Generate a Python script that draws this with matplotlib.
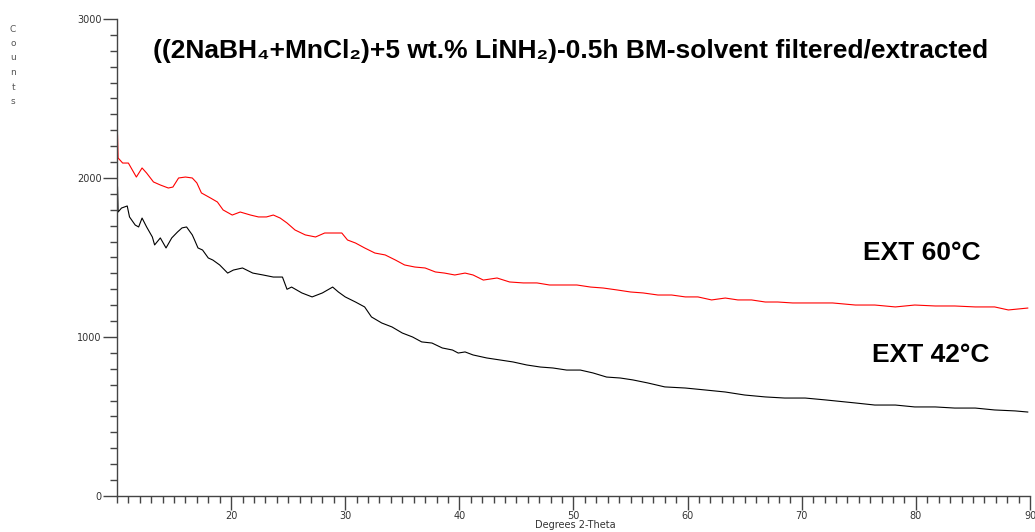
import matplotlib
matplotlib.use("Agg")
import matplotlib.pyplot as plt
from matplotlib.ticker import MultipleLocator, FixedLocator

# Data (Degrees 2-Theta vs Counts)
red_x = [10.05, 10.1, 10.5, 11.0, 11.7, 12.2, 12.6, 13.2, 13.8, 14.5, 14.9, 15.4, 16.0, 16.6, 17.0,
         17.4, 18.2, 18.8, 19.3, 20.1, 20.8, 21.7, 22.4, 23.1, 23.7, 24.3, 24.9, 25.6, 26.5, 27.4,
         28.2, 29.1, 29.7, 30.2, 30.9, 31.7, 32.6, 33.5, 34.4, 35.2, 36.1, 37.0, 37.9, 38.7, 39.6,
         40.5, 41.2, 42.1, 43.3, 44.4, 45.6, 46.8, 47.9, 49.1, 50.3, 51.5, 52.6, 53.8, 55.0, 56.1,
         57.4, 58.6, 59.8, 60.9, 62.1, 63.3, 64.4, 65.6, 66.8, 67.9, 69.2, 70.3, 71.4, 72.7, 74.7,
         76.4, 78.2, 79.9, 81.7, 83.4, 85.2, 86.9, 88.1, 89.8]
red_y = [2270, 2126, 2094, 2094, 2006, 2063, 2031, 1975, 1956, 1937, 1943, 2000, 2006, 2000, 1969,
         1906, 1874, 1849, 1799, 1767, 1786, 1767, 1755, 1755, 1767, 1748, 1717, 1673, 1642, 1629,
         1654, 1654, 1654, 1610, 1591, 1560, 1528, 1516, 1484, 1453, 1440, 1434, 1409, 1402, 1390,
         1402, 1390, 1358, 1371, 1346, 1340, 1340, 1327, 1327, 1327, 1314, 1308, 1296, 1283, 1277,
         1264, 1264, 1252, 1252, 1233, 1245, 1233, 1233, 1220, 1220, 1214, 1214, 1214, 1214, 1201,
         1201, 1189, 1201, 1195, 1195, 1189, 1189, 1170, 1182]

blk_x = [10.05, 10.1, 10.4, 10.9, 11.1, 11.6, 11.9, 12.2, 12.6, 13.1, 13.3, 13.8, 14.3, 14.8, 15.3,
         15.7, 16.1, 16.6, 16.8, 17.1, 17.5, 18.0, 18.4, 19.0, 19.7, 20.2, 21.0, 21.9, 22.8, 23.7,
         24.5, 24.9, 25.3, 26.2, 27.1, 28.0, 28.9, 29.4, 30.0, 30.9, 31.7, 32.3, 33.2, 34.1, 35.0,
         35.9, 36.7, 37.6, 38.5, 39.4, 39.9, 40.5, 41.2, 42.4, 43.6, 44.7, 45.9, 47.1, 48.2, 49.4,
         50.6, 51.7, 52.9, 54.1, 55.2, 56.5, 58.0, 59.8, 61.5, 63.3, 65.0, 66.8, 68.5, 70.3, 72.1,
         74.7, 76.4, 78.2, 79.9, 81.7, 83.4, 85.2, 86.9, 88.7, 89.8]
blk_y = [1943, 1786, 1811, 1824, 1755, 1704, 1692, 1748, 1692, 1629, 1579, 1623, 1560, 1623, 1660,
         1686, 1692, 1642, 1610, 1560, 1547, 1497, 1484, 1453, 1402, 1421, 1434, 1402, 1390, 1377,
         1377, 1300, 1314, 1277, 1252, 1277, 1314, 1283, 1252, 1220, 1189, 1126, 1088, 1063, 1025,
         1000, 969, 962, 931, 918, 899, 906, 887, 868, 855, 843, 824, 811, 805, 792,
         792, 774, 748, 742, 730, 711, 686, 679, 667, 654, 635, 623, 616, 616, 604,
         585, 572, 572, 560, 560, 553, 553, 541, 535, 528]

x_major = [20, 30, 40, 50, 60, 70, 80, 90]
y_major = [0, 1000, 2000, 3000]

title = "((2NaBH\u2084+MnCl\u2082)+5 wt.% LiNH\u2082)-0.5h BM-solvent filtered/extracted"
fonts = ["Liberation Sans", "DejaVu Sans"]

fig = plt.figure(figsize=(10.35, 5.32), dpi=100)
ax = fig.add_axes([0.113, 0.0677, 0.8822, 0.8966])

ax.plot(red_x, red_y, color="red", lw=0.8)
ax.plot(blk_x, blk_y, color="black", lw=0.8)

ax.set_xlim(10, 90)
ax.set_ylim(0, 3000)
for s in ["top", "right"]:
    ax.spines[s].set_visible(False)
for s in ["left", "bottom"]:
    ax.spines[s].set_color("#444444")
    ax.spines[s].set_linewidth(1.0)

ax.xaxis.set_major_locator(FixedLocator(x_major))
ax.xaxis.set_minor_locator(MultipleLocator(1))
ax.yaxis.set_major_locator(FixedLocator(y_major))
ax.yaxis.set_minor_locator(MultipleLocator(100))
ax.tick_params(axis="both", which="major", direction="out", length=10, width=1,
               color="#444444", labelsize=7, labelcolor="#333333", pad=1)
ax.tick_params(axis="both", which="minor", direction="out", length=5, width=1, color="#444444")

ax.text(10 + (863 - 117) / 11.41, 1528, "EXT 60\u00b0C", fontsize=19, fontweight="bold",
        family=fonts, ha="left", va="center")
ax.text(10 + (872 - 117) / 11.41, 887, "EXT 42\u00b0C", fontsize=19, fontweight="bold",
        family=fonts, ha="left", va="center")

fig.text(0.551, 0.904, title, fontsize=19, fontweight="bold", family=fonts,
         ha="center", va="center")

# vertical stacked "Counts" label
for i, ch in enumerate("Counts"):
    fig.text(0.0126, 1 - (29 + i * 14.5) / 532, ch, fontsize=6.5, color="#555555",
             ha="center", va="center")
fig.text(0.556, 0.014, "Degrees 2-Theta", fontsize=7, color="#333333", ha="center", va="center")

fig.savefig("out.png", dpi=100)
